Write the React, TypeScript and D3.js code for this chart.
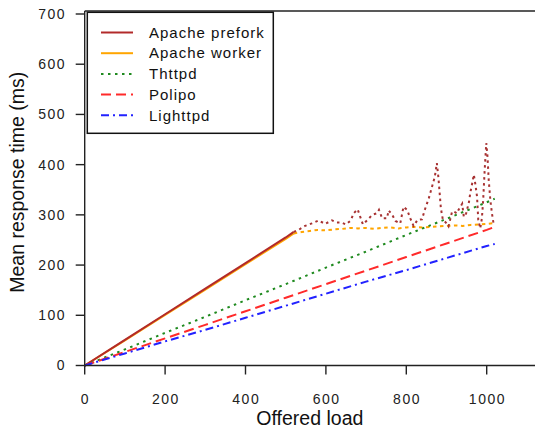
import React from 'react';
import * as d3 from 'd3';

// offered load -> mean response time (ms)
const linearLoads = [0, 100, 200, 300, 400, 500, 520];
const preforkLinear = [0, 51, 102, 153, 204, 255, 266];
const workerLinear = [0, 50, 101, 151, 202, 252, 263];

const preforkNoisyLoads = [520, 532, 548, 565, 582, 598, 615, 627, 637, 650, 662, 669, 679, 685, 692, 705, 715, 727, 732, 740, 752, 756, 765, 773, 785, 793, 802, 810, 818, 828, 839, 846, 856, 864, 871, 876, 880, 883, 886, 891, 898, 905, 914, 918, 926, 930, 939, 943, 947, 956, 959, 964, 968, 972, 976, 979, 984, 988, 991, 995, 999, 1002, 1005, 1009, 1013, 1017];
const preforkNoisy = [266, 270, 278, 283, 289, 282, 289, 285, 285, 281, 289, 303, 311, 297, 281, 291, 300, 303, 310, 293, 293, 309, 300, 288, 283, 316, 310, 293, 278, 290, 291, 310, 333, 356, 376, 403, 373, 343, 313, 290, 285, 277, 307, 307, 303, 310, 322, 297, 297, 326, 343, 363, 380, 360, 336, 290, 273, 293, 326, 390, 443, 416, 370, 330, 303, 283];

const workerNoisyLoads = [520, 540, 560, 580, 600, 620, 640, 660, 680, 700, 720, 740, 760, 780, 800, 820, 840, 860, 880, 900, 920, 940, 960, 980, 1000, 1020];
const workerNoisy = [263, 266, 268, 270, 269, 271, 272, 274, 273, 274, 272, 274, 275, 273, 275, 276, 275, 276, 277, 278, 279, 278, 280, 281, 282, 284];

const fullLoads = [0, 100, 200, 300, 400, 500, 600, 700, 800, 900, 1000, 1020];
const thttpd = [0, 32, 65, 97, 130, 162, 195, 227, 260, 292, 325, 332];
const polipo = [0, 27, 54, 81, 108, 135, 162, 189, 216, 243, 270, 276];
const lighttpd = [0, 24, 48, 71, 95, 119, 143, 167, 190, 214, 238, 242];

const xTicks = [0, 200, 400, 600, 800, 1000];
const yTicks = [0, 100, 200, 300, 400, 500, 600, 700];

const legendItems = [
  { label: 'Apache prefork', color: '#b22a2a', dash: null },
  { label: 'Apache worker', color: '#ffa500', dash: null },
  { label: 'Thttpd', color: '#1f8a1f', dash: '2.5,4.5' },
  { label: 'Polipo', color: '#ff2a2a', dash: '10,5' },
  { label: 'Lighttpd', color: '#2222ff', dash: '8,4,2,4' },
];

const font = '"Liberation Sans", Arial, Helvetica, sans-serif';

export default function App() {
  const width = 535;
  const height = 430;
  const plotTop = 11;
  const plotRight = 535;

  const x = d3.scaleLinear().domain([0, 1000]).range([84.7, 486.7]);
  const y = d3.scaleLinear().domain([0, 700]).range([365.5, 14]);

  const line = d3.line<[number, number]>().x(d => x(d[0])).y(d => y(d[1]));
  const path = (xs: number[], ys: number[]) => line(xs.map((v, i) => [v, ys[i]] as [number, number])) || '';

  const x0 = x(0);
  const yBase = y(0);

  return (
    <svg width={width} height={height} style={{ position: 'absolute', left: 0, top: 0, background: '#fff' }}>
      {/* series */}
      <g fill="none" strokeWidth={2}>
        <path d={path(linearLoads, workerLinear)} stroke="#ffa500" />
        <path d={path(linearLoads, preforkLinear)} stroke="#b22a2a" />
        <path d={path(workerNoisyLoads, workerNoisy)} stroke="#ffa500" strokeDasharray="3.5,3.5" />
        <path d={path(preforkNoisyLoads, preforkNoisy)} stroke="#a83232" strokeDasharray="2.5,3.5" />
        <path d={path(fullLoads, thttpd)} stroke="#1f8a1f" strokeDasharray="2.5,4.5" />
        <path d={path(fullLoads, polipo)} stroke="#ff2a2a" strokeDasharray="10,5" />
        <path d={path(fullLoads, lighttpd)} stroke="#2222ff" strokeDasharray="8,4,2,4" />
      </g>

      {/* frame and axes */}
      <g stroke="#222" strokeWidth={1.4}>
        <line x1={x0} x2={plotRight} y1={plotTop} y2={plotTop} />
        <line x1={x0} x2={x0} y1={plotTop} y2={yBase} />
        <line x1={x0} x2={plotRight} y1={yBase} y2={yBase} />
        {yTicks.map(t => (
          <line key={'yt' + t} x1={x0 - 9} x2={x0} y1={y(t)} y2={y(t)} />
        ))}
        {xTicks.map(t => (
          <line key={'xt' + t} x1={x(t)} x2={x(t)} y1={yBase} y2={yBase + 9} />
        ))}
      </g>

      <g fontFamily={font} fontSize={14} fill="#222" style={{ letterSpacing: '1.5px' }}>
        {yTicks.map(t => (
          <text key={'yl' + t} x={66} y={y(t)} dy="0.35em" textAnchor="end">{t}</text>
        ))}
        {xTicks.map(t => (
          <text key={'xl' + t} x={x(t) + 0.75} y={404} textAnchor="middle">{t}</text>
        ))}
      </g>

      <text x={(x0 + plotRight) / 2} y={425} textAnchor="middle" fontFamily={font} fontSize={19.5} fill="#111">Offered load</text>
      <text transform={`translate(24,${(plotTop + yBase) / 2 - 6}) rotate(-90)`} textAnchor="middle" fontFamily={font} fontSize={19.5} fill="#111">Mean response time (ms)</text>

      {/* legend */}
      <g>
        <rect x={87.3} y={12.3} width={186} height={121} fill="#fff" stroke="#111" strokeWidth={1.5} />
        {legendItems.map((d, i) => {
          const ly = 32.5 + i * 20.7;
          return (
            <g key={d.label}>
              <line x1={101} x2={133} y1={ly} y2={ly} stroke={d.color} strokeWidth={2} strokeDasharray={d.dash || undefined} />
              <text x={149} y={ly} dy="0.35em" fontFamily={font} fontSize={15} fill="#111" style={{ letterSpacing: '1px' }}>{d.label}</text>
            </g>
          );
        })}
      </g>
    </svg>
  );
}
